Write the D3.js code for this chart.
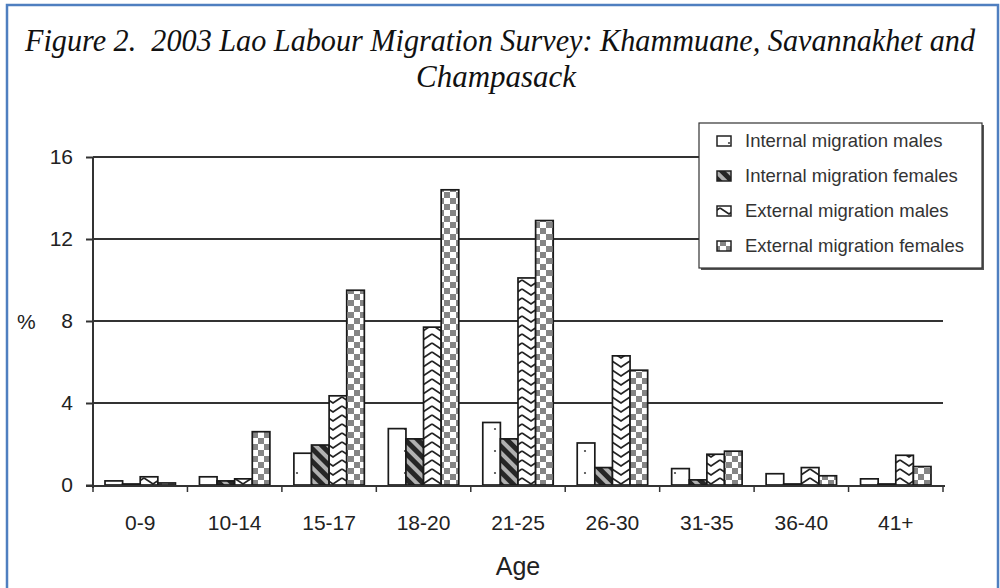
<!DOCTYPE html>
<html><head><meta charset="utf-8">
<script src="https://cdn.jsdelivr.net/npm/d3@7/dist/d3.min.js"></script>
<style>body{margin:0;background:#fff}svg{display:block}</style>
</head><body><svg id="c" width="1000" height="588"></svg>
<script>
const categories = ["0-9","10-14","15-17","18-20","21-25","26-30","31-35","36-40","41+"];
const seriesNames = ["Internal migration males","Internal migration females","External migration males","External migration females"];
const internalMales   = [0.2, 0.4, 1.55, 2.75, 3.05, 2.05, 0.8, 0.55, 0.3];
const internalFemales = [0.05, 0.2, 1.95, 2.25, 2.25, 0.85, 0.25, 0.05, 0.05];
const externalMales   = [0.4, 0.3, 4.35, 7.7, 10.1, 6.3, 1.5, 0.85, 1.45];
const externalFemales = [0.1, 2.6, 9.5, 14.4, 12.9, 5.6, 1.65, 0.45, 0.9];
const yTicks = [0, 4, 8, 12, 16];
const titleLines = ["Figure 2.\u00a0 2003 Lao Labour Migration Survey: Khammuane, Savannakhet and", "Champasack"];

const seriesValues = [internalMales, internalFemales, externalMales, externalFemales];
const svg = d3.select("#c");

// blue frame
svg.append("rect").attr("x",7).attr("y",5).attr("width",991).attr("height",600)
  .attr("fill","none").attr("stroke","#4f7fc0").attr("stroke-width",2.5);

// patterns
const defs = svg.append("defs");
const p0 = defs.append("pattern").attr("id","pat0").attr("patternUnits","userSpaceOnUse").attr("width",18).attr("height",22);
p0.append("rect").attr("width",18).attr("height",22).attr("fill","#fff");
p0.append("circle").attr("cx",9).attr("cy",11).attr("r",1.1).attr("fill","#444");
const p1 = defs.append("pattern").attr("id","pat1").attr("patternUnits","userSpaceOnUse").attr("width",9).attr("height",9).attr("patternTransform","rotate(45)");
p1.append("rect").attr("width",9).attr("height",9).attr("fill","#262626");
p1.append("rect").attr("x",0).attr("y",0).attr("width",9).attr("height",4).attr("fill","#b0b0b0");
const p2 = defs.append("pattern").attr("id","pat2").attr("patternUnits","userSpaceOnUse").attr("width",18).attr("height",9);
p2.append("rect").attr("width",18).attr("height",9).attr("fill","#fff");
p2.append("path").attr("d","M0,1 L9,7 L18,1").attr("fill","none").attr("stroke","#222").attr("stroke-width",1.7);
const p3 = defs.append("pattern").attr("id","pat3").attr("patternUnits","userSpaceOnUse").attr("width",12).attr("height",12);
p3.append("rect").attr("width",12).attr("height",12).attr("fill","#fff");
p3.append("rect").attr("x",0).attr("y",0).attr("width",6).attr("height",6).attr("fill","#858585");
p3.append("rect").attr("x",6).attr("y",6).attr("width",6).attr("height",6).attr("fill","#858585");
const fills = ["url(#pat0)","url(#pat1)","url(#pat2)","url(#pat3)"];

// title
const tl = svg.append("g").attr("font-family","'Liberation Serif','Times New Roman',serif")
  .attr("font-style","italic").attr("font-size",31).attr("fill","#111");
tl.append("text").attr("x",500).attr("y",51).attr("text-anchor","middle")
  .attr("textLength",950).attr("lengthAdjust","spacingAndGlyphs").text(titleLines[0]);
tl.append("text").attr("x",496).attr("y",87).attr("text-anchor","middle")
  .attr("textLength",160).attr("lengthAdjust","spacingAndGlyphs").text(titleLines[1]);

// scales
const x0 = d3.scaleBand().domain(categories).range([93,943]).padding(0);
const x1 = d3.scaleBand().domain(d3.range(4)).range([12, x0.bandwidth()-12]).padding(0);
const y = d3.scaleLinear().domain([0,16]).range([485,157]);

// gridlines
svg.append("g").selectAll("line").data(yTicks.filter(d=>d>0)).join("line")
  .attr("x1",93).attr("x2",943).attr("y1",d=>y(d)).attr("y2",d=>y(d))
  .attr("stroke","#333").attr("stroke-width",2);

// bars
const g = svg.append("g");
categories.forEach((c,i)=>{
  seriesValues.forEach((vals,s)=>{
    g.append("rect").attr("x",x0(c)+x1(s)).attr("width",x1.bandwidth())
      .attr("y",y(vals[i])).attr("height",y(0)-y(vals[i]))
      .attr("fill",fills[s]).attr("stroke","#1a1a1a").attr("stroke-width",1.7);
  });
});

// y axis
const yAxis = svg.append("g").attr("transform","translate(93,0)")
  .call(d3.axisLeft(y).tickValues(yTicks).tickSize(7).tickPadding(13).tickFormat(d3.format("d")));
yAxis.select(".domain").attr("stroke","#333").attr("stroke-width",2).attr("d","M0,"+y(16)+"V"+(y(0)+3));
yAxis.selectAll(".tick line").attr("stroke","#333").attr("stroke-width",2);
yAxis.selectAll("text").attr("font-family","'Liberation Sans',Arial,sans-serif").attr("font-size",21).attr("fill","#222");

// x axis
const xAxis = svg.append("g").attr("transform","translate(0,"+(y(0)+1)+")");
xAxis.append("line").attr("x1",86).attr("x2",945).attr("y1",0).attr("y2",0).attr("stroke","#333").attr("stroke-width",2);
const bounds = categories.map(c=>x0(c)).concat([x0.range()[1]]);
xAxis.selectAll("line.t").data(bounds).join("line").attr("class","t")
  .attr("x1",d=>d).attr("x2",d=>d).attr("y1",0).attr("y2",6).attr("stroke","#333").attr("stroke-width",1.5);
xAxis.selectAll("text").data(categories).join("text")
  .attr("x",c=>x0(c)+x0.bandwidth()/2).attr("y",44).attr("text-anchor","middle")
  .attr("font-family","'Liberation Sans',Arial,sans-serif").attr("font-size",21).attr("fill","#222").text(c=>c);

svg.append("text").attr("x",518).attr("y",575).attr("text-anchor","middle")
  .attr("font-family","'Liberation Sans',Arial,sans-serif").attr("font-size",25).attr("fill","#222").text("Age");
svg.append("text").attr("x",17).attr("y",329)
  .attr("font-family","'Liberation Sans',Arial,sans-serif").attr("font-size",21).attr("fill","#222").text("%");

// legend
const lg = svg.append("g");
lg.append("rect").attr("x",701).attr("y",125).attr("width",283).attr("height",145).attr("fill","#555");
lg.append("rect").attr("x",699).attr("y",123).attr("width",283).attr("height",145).attr("fill","#fff").attr("stroke","#333").attr("stroke-width",1.2);
seriesNames.forEach((n,s)=>{
  const cy = 141 + s*35;
  lg.append("rect").attr("x",717).attr("y",cy-5).attr("width",14).attr("height",10)
    .attr("fill",fills[s]).attr("stroke","#222").attr("stroke-width",1.5);
  lg.append("text").attr("x",745).attr("y",cy+6).attr("font-family","'Liberation Sans',Arial,sans-serif")
    .attr("font-size",18.5).attr("fill","#333").text(n);
});
</script></body></html>
